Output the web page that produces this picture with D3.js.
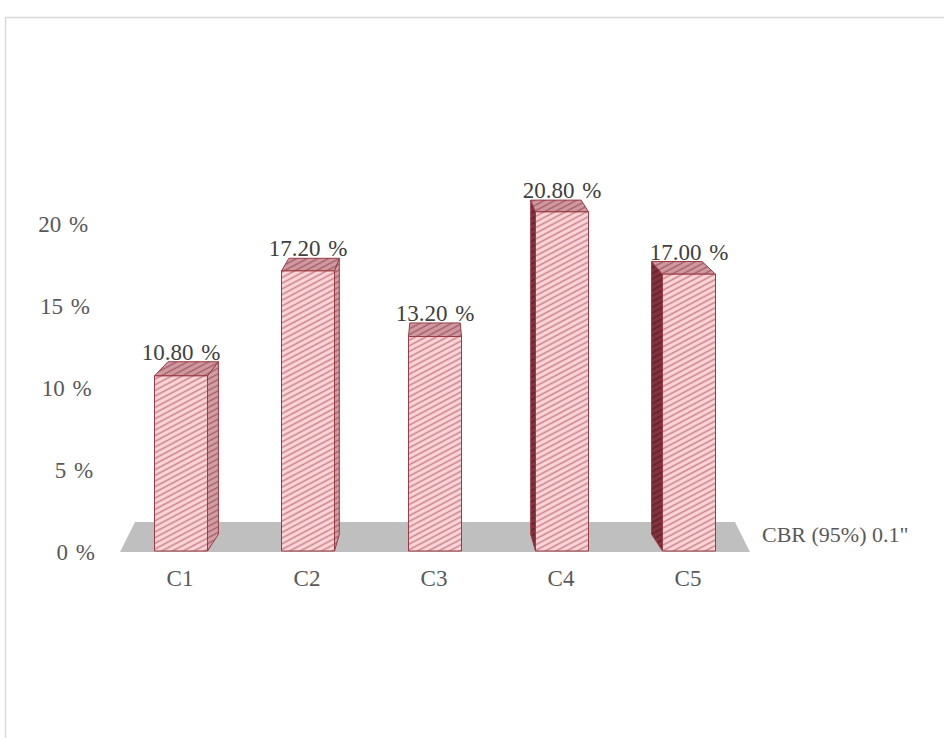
<!DOCTYPE html>
<html><head><meta charset="utf-8">
<script src="https://cdn.jsdelivr.net/npm/d3@7"></script>
<style>html,body{margin:0;padding:0;background:#fff;}svg{display:block;}</style>
</head><body>
<script>
const categories = ["C1","C2","C3","C4","C5"];
const values = [10.80, 17.20, 13.20, 20.80, 17.00];
const valueLabels = ["10.80 %","17.20 %","13.20 %","20.80 %","17.00 %"];
const yTicks = [0,5,10,15,20];
const yTickLabels = ["0 %","5 %","10 %","15 %","20 %"];
const seriesName = "CBR (95%) 0.1\"";

const W = 944, H = 738;
const svg = d3.select("body").append("svg").attr("width", W).attr("height", H);
const font = "'Liberation Serif', serif";
const textColor = "#595959";

// outer frame
svg.append("rect").attr("x",5.5).attr("y",17.5).attr("width",1000).attr("height",800)
  .attr("fill","#fff").attr("stroke","#d9d9d9").attr("stroke-width",1.5);

const defs = svg.append("defs");
function hatch(id, bg, line, w){
  const p = defs.append("pattern").attr("id",id).attr("patternUnits","userSpaceOnUse")
    .attr("width",10).attr("height",5).attr("patternTransform","rotate(-28)");
  p.append("rect").attr("width",10).attr("height",5).attr("fill",bg);
  p.append("line").attr("x1",0).attr("x2",10).attr("y1",2.5).attr("y2",2.5)
    .attr("stroke",line).attr("stroke-width",w);
}
hatch("hFront","#fbd8da","#cc808a",1.6);
hatch("hTop","#cf9aa1","#a35a66",1.4);
hatch("hSideL","#d3a0a6","#a65c66",1.4);
hatch("hSideD","#83343e","#5e1f27",1.4);

const x = d3.scalePoint().domain(categories).range([181, 689]);
const y = d3.scaleLinear().domain([0,20]).range([553, 225]);
const barW = 53;
const yBase = 551;
const vx = 435, sx = 0.952, vy = -600, sy = 0.9855;
const bx = v => vx + (v - vx) * sx;
const by = v => vy + (v - vy) * sy;

// floor
const floorPts = [[120, yBase+1],[750, yBase+1],[735, 522],[135, 522]];
svg.append("polygon").attr("points", floorPts.map(p=>p.join(",")).join(" "))
  .attr("fill","#bfbfbf");

// y axis labels (slight perspective slant)
const yLabelX = v => 95 - (553 - y(v)) * 0.021;
svg.append("g").selectAll("text").data(yTicks).join("text")
  .attr("x", d => yLabelX(d)).attr("y", d => y(d) + 2)
  .attr("text-anchor","end").attr("dominant-baseline","middle")
  .attr("font-family",font).attr("font-size",23).attr("word-spacing",2).attr("fill",textColor)
  .text((d,i)=>yTickLabels[i]);

// bars
const edge = "#9b3b44";
const data = categories.map((c,i)=>({c, v: values[i], label: valueLabels[i]}));
const g = svg.append("g");
data.forEach(d => {
  const cx = x(d.c);
  const x0 = cx - barW/2, x1 = cx + barW/2;
  const yt = y(d.v);
  const bars = g.append("g");
  const poly = (pts, fill) => bars.append("polygon")
    .attr("points", pts.map(p=>p.join(",")).join(" "))
    .attr("fill", fill).attr("stroke", edge).attr("stroke-width",1).attr("stroke-linejoin","round");
  if (x1 < vx) {
    poly([[x1,yt],[bx(x1),by(yt)],[bx(x1),by(yBase)],[x1,yBase]], "url(#hSideL)");
  }
  if (x0 > vx) {
    poly([[x0,yt],[bx(x0),by(yt)],[bx(x0),by(yBase)],[x0,yBase]], "url(#hSideD)");
  }
  poly([[x0,yt],[x1,yt],[bx(x1),by(yt)],[bx(x0),by(yt)]], "url(#hTop)");
  poly([[x0,yt],[x1,yt],[x1,yBase],[x0,yBase]], "url(#hFront)");
  // value label
  g.append("text").attr("x", cx).attr("y", by(yt) - 2)
    .attr("text-anchor","middle").attr("font-family",font).attr("font-size",23)
    .attr("word-spacing",2).attr("fill","#404040").text(d.label);
});

// x axis category labels
svg.append("g").selectAll("text").data(categories).join("text")
  .attr("x", d => x(d) - 1).attr("y", 581)
  .attr("text-anchor","middle").attr("dominant-baseline","middle")
  .attr("font-family",font).attr("font-size",23).attr("fill",textColor)
  .text(d=>d);

// series label
svg.append("text").attr("x",762).attr("y",537).attr("dominant-baseline","middle")
  .attr("font-family",font).attr("font-size",22).attr("fill",textColor).text(seriesName);
</script>
</body></html>
